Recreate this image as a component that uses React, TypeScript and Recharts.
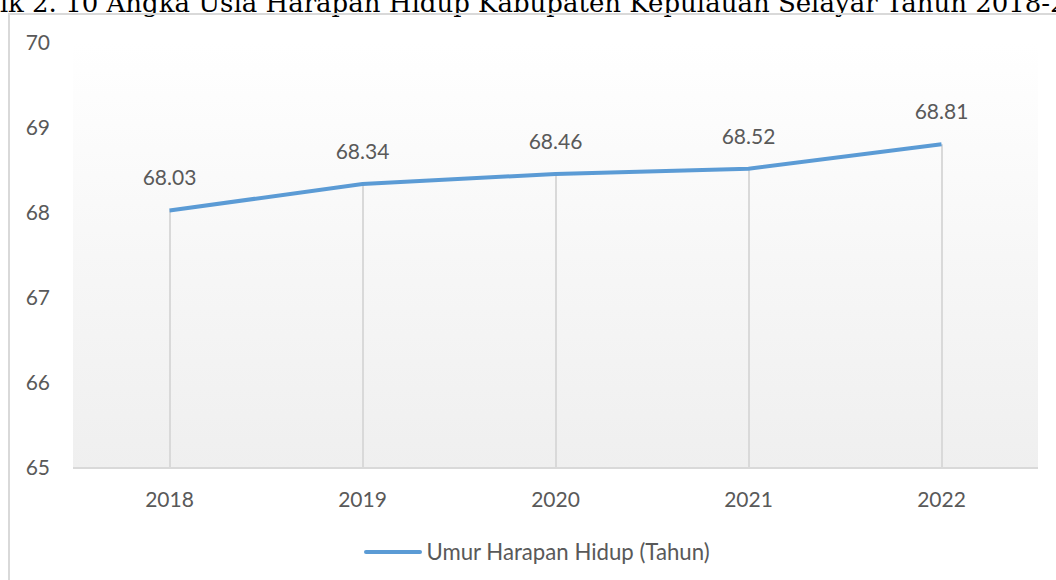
import React from "react";
import { ComposedChart, Line, Bar, XAxis, YAxis, CartesianGrid, LabelList, Legend } from "recharts";

const years = ["2018", "2019", "2020", "2021", "2022"];
const lifeExpectancy = [68.03, 68.34, 68.46, 68.52, 68.81];
const yTicks = [65, 66, 67, 68, 69, 70];
const seriesName = "Umur Harapan Hidup (Tahun)";
const title = "Grafik 2. 10 Angka Usia Harapan Hidup Kabupaten Kepulauan Selayar Tahun 2018-2022";

const data = years.map((y, i) => ({ year: y, value: lifeExpectancy[i] }));

const FONT = "Lato, 'Open Sans', sans-serif";
const TEXT = "#595959";
const LINE = "#5b9bd5";

const LegendContent = () => (
  <div style={{ display: "flex", justifyContent: "center", alignItems: "center", fontFamily: FONT, fontSize: 22.2, color: TEXT, height: 25, paddingLeft: 18 }}>
    <svg width={58} height={10} style={{ marginRight: 4 }}>
      <line x1={2} y1={5} x2={56} y2={5} stroke={LINE} strokeWidth={4} strokeLinecap="round" />
    </svg>
    <span>{seriesName}</span>
  </div>
);

export default function App() {
  return (
    <div style={{ position: "absolute", left: 0, top: 0, width: 1056, height: 580, overflow: "hidden", background: "#fff" }}>
      <div
        style={{
          position: "absolute",
          left: -58,
          top: -12,
          whiteSpace: "nowrap",
          fontFamily: "'DejaVu Serif', serif",
          fontSize: 26,
          lineHeight: "30px",
          color: "#000",
        }}
      >
        {title}
      </div>
      <div
        style={{
          position: "absolute",
          left: 8,
          top: 13,
          width: 1100,
          height: 600,
          borderLeft: "2px solid #d9d9d9",
          borderTop: "2px solid #d9d9d9",
        }}
      />
      <div style={{ position: "absolute", left: 0, top: 0 }}>
        <ComposedChart width={1056} height={580} data={data} margin={{ top: 43, right: 18, bottom: 47, left: 13 }}>
          <defs>
            <linearGradient id="plotBg" x1="0" y1="0" x2="0" y2="1">
              <stop offset="0%" stopColor="#ffffff" />
              <stop offset="100%" stopColor="#efefef" />
            </linearGradient>
          </defs>
          <CartesianGrid horizontal={false} vertical={false} fill="url(#plotBg)" stroke="none" />
          <XAxis
            dataKey="year"
            axisLine={{ stroke: "#d9d9d9", strokeWidth: 2 }}
            tickLine={false}
            tick={{ fill: TEXT, fontSize: 21, fontFamily: FONT }}
            tickMargin={18}
            height={40}
          />
          <YAxis
            domain={[65, 70]}
            ticks={yTicks}
            axisLine={false}
            tickLine={false}
            tick={{ fill: TEXT, fontSize: 21, fontFamily: FONT, textAnchor: "end" }}
            width={60}
            tickMargin={17}
          />
          <Bar dataKey="value" barSize={2} fill="#d9d9d9" isAnimationActive={false} legendType="none" />
          <Line
            type="linear"
            dataKey="value"
            name={seriesName}
            stroke={LINE}
            strokeWidth={4}
            dot={false}
            activeDot={false}
            isAnimationActive={false}
          >
            <LabelList
              dataKey="value"
              position="top"
              offset={25}
              style={{ fill: TEXT, fontSize: 21, fontFamily: FONT }}
              formatter={(v: number) => v.toFixed(2)}
            />
          </Line>
          <Legend content={<LegendContent />} wrapperStyle={{ top: 539, left: 0, width: 1056, height: 25 }} />
        </ComposedChart>
      </div>
    </div>
  );
}
